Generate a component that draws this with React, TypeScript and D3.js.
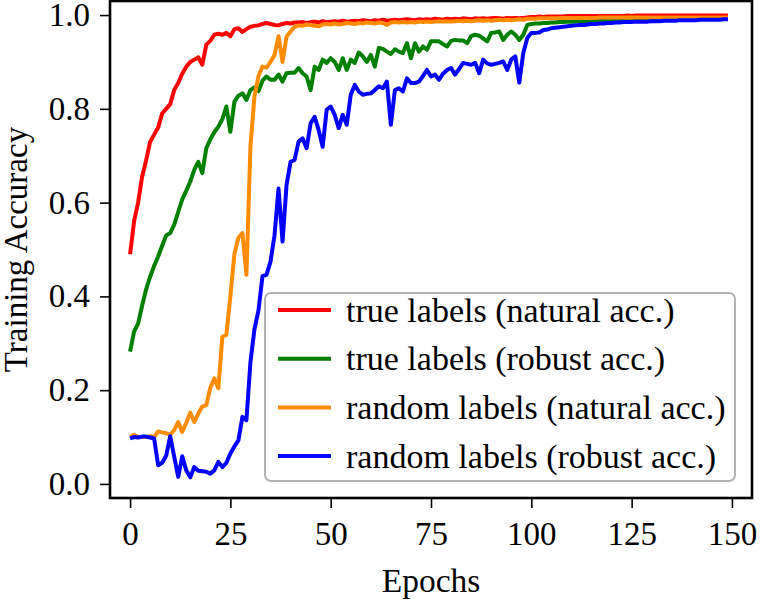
import { useRef, useEffect } from "react";
import * as d3 from "d3";

// accuracy per epoch (index = epoch)
const trueNatural = [
  0.49, 0.56, 0.6, 0.655, 0.69, 0.73, 0.745, 0.76, 0.79, 0.8,
  0.81, 0.84, 0.855, 0.875, 0.89, 0.9, 0.905, 0.91, 0.894, 0.937,
  0.945, 0.958, 0.96, 0.958, 0.962, 0.955, 0.97, 0.972, 0.964, 0.97,
  0.975, 0.977, 0.978, 0.981, 0.983, 0.981, 0.979, 0.978, 0.981, 0.983,
  0.982, 0.984, 0.984, 0.985, 0.983, 0.985, 0.986, 0.984, 0.987, 0.985,
  0.986, 0.987, 0.986, 0.988, 0.986, 0.987, 0.988, 0.987, 0.989, 0.988,
  0.987, 0.989, 0.988, 0.99, 0.988, 0.989, 0.99, 0.989, 0.99, 0.991,
  0.99, 0.989, 0.991, 0.99, 0.991, 0.99, 0.992, 0.991, 0.99, 0.992,
  0.991, 0.992, 0.991, 0.993, 0.992, 0.991, 0.993, 0.992, 0.993, 0.992,
  0.993, 0.994, 0.993, 0.992, 0.994, 0.993, 0.994, 0.993, 0.994, 0.995,
  0.996, 0.996, 0.997, 0.996, 0.997, 0.997, 0.997, 0.997, 0.997, 0.998,
  0.998, 0.998, 0.998, 0.998, 0.998, 0.998, 0.998, 0.998, 0.998, 0.998,
  0.998, 0.998, 0.998, 0.998, 0.999, 0.998, 0.999, 0.999, 0.999, 0.999,
  0.999, 0.999, 0.999, 0.999, 0.999, 0.999, 0.999, 0.999, 0.999, 0.999,
  0.999, 0.999, 0.999, 0.999, 0.999, 0.999, 0.999, 0.999, 0.999, 0.999,
];

const trueRobust = [
  0.282, 0.325, 0.342, 0.38, 0.415, 0.442, 0.465, 0.485, 0.508, 0.53,
  0.535, 0.553, 0.58, 0.607, 0.625, 0.645, 0.67, 0.687, 0.663, 0.716,
  0.735, 0.75, 0.762, 0.778, 0.805, 0.751, 0.815, 0.828, 0.833, 0.819,
  0.84, 0.846, 0.838, 0.86, 0.869, 0.862, 0.862, 0.873, 0.858, 0.876,
  0.877, 0.877, 0.887, 0.876, 0.869, 0.84, 0.89, 0.883, 0.905, 0.898,
  0.908, 0.9, 0.883, 0.908, 0.883, 0.905, 0.898, 0.92, 0.912, 0.9,
  0.915, 0.89, 0.93, 0.928, 0.922, 0.917, 0.927, 0.922, 0.919, 0.94,
  0.908, 0.94, 0.922, 0.933, 0.926, 0.944, 0.944, 0.944, 0.938, 0.933,
  0.945, 0.947, 0.946, 0.946, 0.94, 0.955, 0.958, 0.956, 0.95, 0.944,
  0.962, 0.963, 0.965, 0.947, 0.958, 0.965, 0.958, 0.947, 0.958, 0.979,
  0.981, 0.982, 0.982, 0.983, 0.983, 0.984, 0.984, 0.985, 0.985, 0.986,
  0.986, 0.986, 0.987, 0.987, 0.987, 0.988, 0.988, 0.988, 0.989, 0.989,
  0.989, 0.989, 0.99, 0.99, 0.99, 0.99, 0.99, 0.991, 0.991, 0.991,
  0.991, 0.991, 0.991, 0.992, 0.992, 0.992, 0.992, 0.992, 0.992, 0.992,
  0.993, 0.993, 0.993, 0.993, 0.993, 0.993, 0.993, 0.993, 0.993, 0.993,
];

const randomNatural = [
  0.1, 0.105, 0.1, 0.1, 0.1, 0.102, 0.1, 0.112, 0.11, 0.108,
  0.105, 0.115, 0.132, 0.111, 0.13, 0.152, 0.132, 0.15, 0.165, 0.168,
  0.205, 0.225, 0.204, 0.314, 0.318, 0.4, 0.49, 0.525, 0.535, 0.446,
  0.72, 0.826, 0.87, 0.89, 0.888, 0.9, 0.915, 0.955, 0.9, 0.954,
  0.965, 0.975, 0.978, 0.977, 0.98, 0.979, 0.977, 0.976, 0.98, 0.981,
  0.98, 0.982, 0.98, 0.981, 0.983, 0.982, 0.981, 0.983, 0.982, 0.984,
  0.983, 0.982, 0.984, 0.983, 0.979, 0.984, 0.985, 0.984, 0.985, 0.984,
  0.985, 0.984, 0.986, 0.985, 0.986, 0.985, 0.986, 0.987, 0.986, 0.987,
  0.986, 0.987, 0.988, 0.987, 0.988, 0.987, 0.988, 0.989, 0.988, 0.989,
  0.988, 0.989, 0.99, 0.989, 0.99, 0.989, 0.99, 0.991, 0.99, 0.992,
  0.992, 0.992, 0.993, 0.993, 0.993, 0.993, 0.993, 0.994, 0.994, 0.994,
  0.994, 0.994, 0.994, 0.994, 0.994, 0.994, 0.994, 0.995, 0.995, 0.995,
  0.995, 0.995, 0.995, 0.995, 0.995, 0.995, 0.995, 0.995, 0.995, 0.995,
  0.995, 0.995, 0.995, 0.995, 0.995, 0.995, 0.995, 0.995, 0.995, 0.995,
  0.995, 0.995, 0.995, 0.995, 0.995, 0.995, 0.995, 0.995, 0.995, 0.995,
];

const randomRobust = [
  0.097, 0.1, 0.099, 0.101, 0.101, 0.099, 0.097, 0.04, 0.045, 0.06,
  0.102, 0.058, 0.015, 0.059, 0.029, 0.014, 0.036, 0.028, 0.027, 0.026,
  0.022, 0.029, 0.047, 0.036, 0.045, 0.065, 0.08, 0.093, 0.143, 0.136,
  0.26, 0.33, 0.37, 0.443, 0.446, 0.474, 0.53, 0.63, 0.517, 0.638,
  0.687, 0.691, 0.73, 0.737, 0.716, 0.769, 0.783, 0.755, 0.719, 0.798,
  0.805, 0.787, 0.759, 0.787, 0.766, 0.83, 0.851, 0.837, 0.83, 0.832,
  0.833, 0.84, 0.848, 0.844, 0.858, 0.766, 0.84, 0.844, 0.837, 0.865,
  0.855, 0.855, 0.858, 0.87, 0.883, 0.869, 0.873, 0.862, 0.875, 0.883,
  0.887, 0.873, 0.885, 0.898, 0.896, 0.894, 0.898, 0.876, 0.905, 0.897,
  0.894, 0.896, 0.898, 0.901, 0.883, 0.905, 0.912, 0.856, 0.919, 0.951,
  0.962, 0.962, 0.963, 0.968, 0.969, 0.972, 0.973, 0.974, 0.975, 0.976,
  0.977, 0.978, 0.979, 0.979, 0.98, 0.981, 0.981, 0.982, 0.982, 0.983,
  0.983, 0.984, 0.984, 0.985, 0.985, 0.985, 0.986, 0.986, 0.986, 0.986,
  0.987, 0.987, 0.987, 0.988, 0.988, 0.988, 0.988, 0.989, 0.989, 0.989,
  0.989, 0.989, 0.99, 0.99, 0.99, 0.99, 0.99, 0.99, 0.991, 0.991,
];

const seriesLabels = [
  "true labels (natural acc.)",
  "true labels (robust acc.)",
  "random labels (natural acc.)",
  "random labels (robust acc.)",
];
const seriesColors = ["#ff0000", "#008000", "#ff8c00", "#0000ff"];
const xTicks = [0, 25, 50, 75, 100, 125, 150];
const yTicks = [0, 0.2, 0.4, 0.6, 0.8, 1.0];

const FONT = "Liberation Serif, Times New Roman, DejaVu Serif, serif";

export default function App() {
  const svgRef = useRef<SVGSVGElement>(null);

  useEffect(() => {
    if (!svgRef.current) return;
    const plot = { left: 110, right: 752, top: 1, bottom: 498 };

    const root = d3.select(svgRef.current);
    root.selectAll("*").remove();

    const x = d3.scaleLinear().domain([-5, 155]).range([plot.left, plot.right]);
    const y = d3.scaleLinear().domain([-0.03, 1.03]).range([plot.bottom, plot.top]);

    const series = [trueNatural, trueRobust, randomNatural, randomRobust];

    // lines
    const line = d3.line<number>()
      .x((_, i) => x(i))
      .y(d => y(d));

    const lines = root.append("g");
    series.forEach((s, i) => {
      lines.append("path")
        .datum(s)
        .attr("d", line)
        .attr("fill", "none")
        .attr("stroke", seriesColors[i])
        .attr("stroke-width", 4)
        .attr("stroke-linejoin", "round")
        .attr("stroke-linecap", "butt");
    });

    // axes
    const xAxis = root.append("g")
      .attr("transform", `translate(0,${plot.bottom})`)
      .call(d3.axisBottom(x).tickValues(xTicks).tickSize(10).tickPadding(14).tickFormat(d3.format("d")));
    const yAxis = root.append("g")
      .attr("transform", `translate(${plot.left},0)`)
      .call(d3.axisLeft(y).tickValues(yTicks).tickSize(10).tickPadding(10).tickFormat(d3.format(".1f")));

    [xAxis, yAxis].forEach(ax => {
      ax.attr("font-family", FONT).attr("font-size", 33);
      ax.select(".domain").remove();
      ax.selectAll("line").attr("stroke", "#000").attr("stroke-width", 1.6);
      ax.selectAll("text").attr("fill", "#000");
    });

    // frame
    root.append("rect")
      .attr("x", plot.left)
      .attr("y", plot.top)
      .attr("width", plot.right - plot.left)
      .attr("height", plot.bottom - plot.top)
      .attr("fill", "none")
      .attr("stroke", "#000")
      .attr("stroke-width", 2.6);

    // axis labels
    root.append("text")
      .attr("x", (plot.left + plot.right) / 2)
      .attr("y", 592)
      .attr("text-anchor", "middle")
      .attr("font-family", FONT)
      .attr("font-size", 33.5)
      .text("Epochs");

    root.append("text")
      .attr("transform", `translate(27,${(plot.top + plot.bottom) / 2}) rotate(-90)`)
      .attr("text-anchor", "middle")
      .attr("font-family", FONT)
      .attr("font-size", 33)
      .text("Training Accuracy");

    // legend
    const legend = root.append("g");
    legend.append("rect")
      .attr("x", 265)
      .attr("y", 293)
      .attr("width", 470)
      .attr("height", 188)
      .attr("rx", 6)
      .attr("fill", "rgba(255,255,255,0.8)")
      .attr("stroke", "#b3b3b3")
      .attr("stroke-width", 2);

    seriesLabels.forEach((label, i) => {
      const cy = 310 + i * 48.7;
      legend.append("line")
        .attr("x1", 278)
        .attr("x2", 331)
        .attr("y1", cy)
        .attr("y2", cy)
        .attr("stroke", seriesColors[i])
        .attr("stroke-width", 4);
      legend.append("text")
        .attr("x", 346)
        .attr("y", cy + 11.5)
        .attr("font-family", FONT)
        .attr("font-size", 34)
        .attr("fill", "#000")
        .text(label);
    });
  }, []);

  return (
    <svg
      ref={svgRef}
      width={760}
      height={600}
      style={{ position: "absolute", left: 0, top: 0, background: "#fff" }}
    />
  );
}
